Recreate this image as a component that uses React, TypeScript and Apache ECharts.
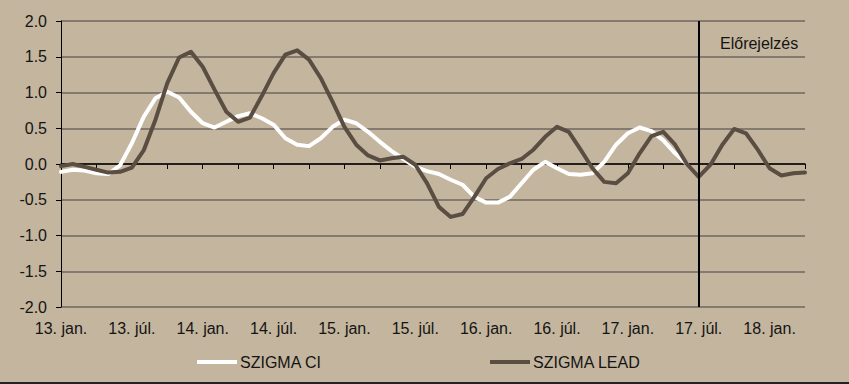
import React, { useEffect, useRef } from "react";
import * as echarts from "echarts";

// ---- data ----
const YEARS = ["13", "14", "15", "16", "17", "18"];
const MONTHS = ["jan.", "febr.", "márc.", "ápr.", "máj.", "jún.", "júl.", "aug.", "szept.", "okt.", "nov.", "dec."];
const ALL_MONTHS: string[] = [];
for (const y of YEARS) for (const m of MONTHS) ALL_MONTHS.push(`${y}. ${m}`);
const CATEGORIES = ALL_MONTHS.slice(0, 64); // 13. jan. .. 18. ápr.

const SZIGMA_CI = [
  -0.11, -0.08, -0.09, -0.13, -0.14, -0.02, 0.29, 0.66, 0.92, 1.01, 0.93, 0.73,
  0.57, 0.51, 0.59, 0.67, 0.71, 0.64, 0.55, 0.36, 0.27, 0.25, 0.36, 0.52,
  0.62, 0.57, 0.45, 0.31, 0.18, 0.07, -0.04, -0.10, -0.14, -0.22, -0.29, -0.46,
  -0.54, -0.54, -0.46, -0.27, -0.08, 0.03, -0.06, -0.14, -0.15, -0.13, 0.03, 0.27,
  0.43, 0.51, 0.46, 0.33, 0.15, 0.0,
];

const SZIGMA_LEAD = [
  -0.03, 0.0, -0.04, -0.08, -0.12, -0.11, -0.05, 0.19, 0.62, 1.13, 1.49, 1.57,
  1.36, 1.04, 0.73, 0.59, 0.65, 0.95, 1.27, 1.53, 1.59, 1.46, 1.2, 0.87,
  0.52, 0.27, 0.12, 0.05, 0.08, 0.1, -0.01, -0.27, -0.6, -0.74, -0.7, -0.46,
  -0.2, -0.07, 0.01, 0.07, 0.2, 0.38, 0.52, 0.45, 0.2, -0.06, -0.25, -0.27,
  -0.13, 0.15, 0.39, 0.45, 0.27, 0.0, -0.18, -0.01, 0.27, 0.49, 0.43, 0.2,
  -0.06, -0.16, -0.13, -0.12,
];

const SERIES_NAMES = ["SZIGMA CI", "SZIGMA LEAD"];
const FORECAST_START = "17. júl.";
const FORECAST_LABEL = "Előrejelzés";
const Y_MIN = -2;
const Y_MAX = 2;
const Y_STEP = 0.5;

const FONT = "'Liberation Sans', Arial, sans-serif";
const TEXT = "#141414";
const BG = "#c4b59e";
const DARK = "#5a4e43";

export default function App() {
  const ref = useRef<HTMLDivElement>(null);

  useEffect(() => {
    if (!ref.current) return;
    const chart = echarts.init(ref.current, undefined, { renderer: "svg" });
    const legendBase = {
      top: 349,
      icon: "rect",
      itemWidth: 40,
      itemHeight: 4,
      textStyle: { fontSize: 16, color: TEXT, fontFamily: FONT, padding: [0, 0, 0, -2] },
    };
    chart.setOption({
      animation: false,
      backgroundColor: BG,
      textStyle: { fontFamily: FONT },
      grid: { left: 61, right: 44, top: 21, bottom: 77, containLabel: false },
      legend: [
        { ...legendBase, data: [SERIES_NAMES[0]], left: 192 },
        { ...legendBase, data: [SERIES_NAMES[1]], left: 485 },
      ],
      xAxis: [
        {
          type: "category",
          data: CATEGORIES,
          boundaryGap: false,
          position: "bottom",
          axisLine: { show: true, onZero: true, lineStyle: { color: "#000", width: 1.5 } },
          axisTick: {
            show: true,
            interval: (i: number) => i % 3 === 0,
            length: 5,
            lineStyle: { color: "#000", width: 1 },
          },
          axisLabel: { show: false },
          splitLine: { show: false },
        },
        {
          type: "category",
          data: CATEGORIES,
          boundaryGap: false,
          position: "bottom",
          axisLine: { show: false, onZero: false },
          axisTick: { show: false },
          axisLabel: {
            interval: (i: number) => i % 6 === 0,
            margin: 13,
            fontSize: 16,
            color: TEXT,
            fontFamily: FONT,
          },
          splitLine: { show: false },
        },
      ],
      yAxis: {
        type: "value",
        min: Y_MIN,
        max: Y_MAX,
        interval: Y_STEP,
        axisLine: { show: true, lineStyle: { color: "#000", width: 1 } },
        axisTick: { show: true, length: 5, lineStyle: { color: "#000" } },
        axisLabel: {
          formatter: (v: number) => v.toFixed(1),
          fontSize: 16,
          color: TEXT,
          fontFamily: FONT,
          margin: 14,
        },
        splitLine: { lineStyle: { color: "#857a6f", width: 2 } },
      },
      series: [
        {
          name: SERIES_NAMES[0],
          type: "line",
          data: SZIGMA_CI,
          xAxisIndex: 0,
          symbol: "none",
          color: "#ffffff",
          lineStyle: { color: "#ffffff", width: 4, cap: "round", join: "round" },
        },
        {
          name: SERIES_NAMES[1],
          type: "line",
          data: SZIGMA_LEAD,
          xAxisIndex: 0,
          symbol: "none",
          color: DARK,
          lineStyle: { color: DARK, width: 4, cap: "round", join: "round" },
          markLine: {
            silent: true,
            symbol: ["none", "none"],
            label: { show: false },
            lineStyle: { color: "#000", width: 2, type: "solid" },
            data: [{ xAxis: FORECAST_START }],
          },
        },
      ],
      graphic: [
        {
          type: "text",
          left: 720,
          top: 35,
          style: { text: FORECAST_LABEL, fontSize: 16, fill: TEXT, fontFamily: FONT },
        },
        {
          type: "line",
          shape: { x1: 0, y1: 383, x2: 849, y2: 383 },
          style: { stroke: "#222", lineWidth: 2 },
        },
      ],
    });
    return () => chart.dispose();
  }, []);

  return (
    <div
      ref={ref}
      style={{ position: "fixed", left: 0, top: 0, width: 849, height: 384 }}
    />
  );
}
